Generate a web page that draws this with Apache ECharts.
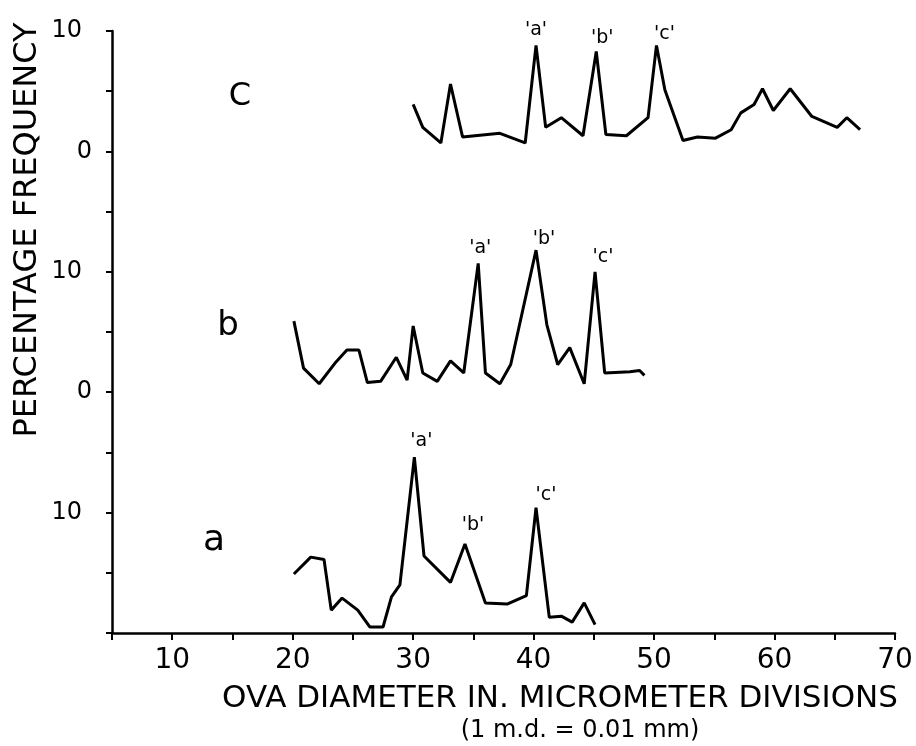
<!DOCTYPE html>
<html><head><meta charset="utf-8">
<script src="https://cdn.jsdelivr.net/npm/echarts@6/dist/echarts.min.js"></script>
<style>html,body{margin:0;padding:0;background:#fff}#c{width:916px;height:746px}</style>
</head><body><div id="c"></div>
<script>
// ---- data (percentage frequency vs ova diameter, micrometer divisions) ----
const xTickLabels = ['10','20','30','40','50','60','70'];
const yTickLabels = {10:'10', 20:'0', 30:'10', 40:'0', 50:'10'};
const stackOffsets = {a:0, b:20, c:40};

const aX = [20.1,21.5,22.6,23.2,24.1,25.4,26.4,27.5,28.2,28.9,30.1,30.9,33.1,34.3,36.0,37.8,39.4,40.2,41.3,42.3,43.2,44.2,45.1];
const aY = [4.9,6.3,6.1,1.9,2.9,1.9,0.5,0.5,3.0,4.0,14.6,6.4,4.2,7.4,2.5,2.4,3.1,10.4,1.3,1.4,0.9,2.5,0.7];

const bX = [20.1,20.9,22.2,23.5,24.5,25.5,26.2,27.3,28.6,29.5,30.0,30.8,32.0,33.1,34.2,35.4,36.0,37.2,38.1,40.2,41.1,42.0,43.0,44.2,45.1,45.9,48.0,48.8,49.2];
const bY = [5.9,2.0,0.7,2.4,3.5,3.5,0.8,0.9,2.9,1.0,5.5,1.6,0.9,2.6,1.6,10.7,1.6,0.7,2.3,11.8,5.6,2.3,3.7,0.7,10.0,1.6,1.7,1.8,1.4];

const cX = [30.0,30.8,32.3,33.1,34.1,37.2,39.3,40.2,41.0,42.3,44.1,45.2,46.0,47.7,49.5,50.2,50.9,52.4,53.6,55.1,56.4,57.2,58.3,59.0,59.9,61.3,63.1,65.2,66.0,67.1];
const cY = [3.9,2.0,0.7,5.6,1.2,1.5,0.7,8.8,2.0,2.8,1.3,8.3,1.4,1.3,2.8,8.8,5.1,0.9,1.2,1.1,1.8,3.2,3.9,5.2,3.4,5.2,2.9,2.0,2.8,1.8];

// peak annotations: index into the series
const peaksA = [{t:"'a'", i:10, off:[7,-16]}, {t:"'b'", i:13, off:[8,-19]}, {t:"'c'", i:17, off:[10,-13]}];
const peaksB = [{t:"'a'", i:15, off:[2,-15]}, {t:"'b'", i:19, off:[8,-11]}, {t:"'c'", i:24, off:[8,-15]}];
const peaksC = [{t:"'a'", i:7, off:[0,-15]}, {t:"'b'", i:11, off:[6,-13]}, {t:"'c'", i:15, off:[8,-11]}];

const FONT = 'DejaVu Sans';
const INK = '#000';

function build(xs, ys, off) { return xs.map((x, k) => [x, ys[k] + off]); }
function mk(data, peaks) {
  return {
    symbol: 'circle', symbolSize: 0, silent: true,
    data: peaks.map(p => ({
      coord: data[p.i],
      label: {show: true, position: 'inside', offset: p.off, formatter: p.t,
              fontSize: 19, color: INK, fontFamily: FONT}
    }))
  };
}
function line(name, data, peaks) {
  return {
    name, type: 'line', data, symbol: 'none', animation: false,
    lineStyle: {color: INK, width: 3}, itemStyle: {color: INK},
    markPoint: mk(data, peaks)
  };
}

const dA = build(aX, aY, stackOffsets.a);
const dB = build(bX, bY, stackOffsets.b);
const dC = build(cX, cY, stackOffsets.c);

const chart = echarts.init(document.getElementById('c'), null, {renderer: 'canvas'});
chart.setOption({
  backgroundColor: '#fff',
  animation: false,
  grid: {left: 112, right: 21, top: 31, bottom: 113, containLabel: false},
  xAxis: {
    type: 'value', min: 5, max: 70, interval: 5,
    axisLine: {show: true, lineStyle: {color: INK, width: 2.5}},
    axisTick: {show: true, length: 7, lineStyle: {color: INK, width: 2}},
    splitLine: {show: false},
    axisLabel: {
      formatter: v => (xTickLabels.indexOf(String(v)) >= 0 ? String(v) : ''),
      fontSize: 28, color: INK, fontFamily: FONT, margin: 14
    }
  },
  yAxis: {
    type: 'value', min: 0, max: 50, interval: 5,
    axisLine: {show: true, lineStyle: {color: INK, width: 2.5}},
    axisTick: {show: true, length: 6, lineStyle: {color: INK, width: 2}},
    splitLine: {show: false},
    axisLabel: {
      formatter: v => {
        const s = yTickLabels[v];
        if (s === undefined) return '';
        return s === '0' ? '{z|0}' : '{t|10}';
      },
      margin: 20,
      rich: {
        z: {fontSize: 24, color: INK, fontFamily: FONT},
        t: {fontSize: 24, color: INK, fontFamily: FONT, padding: [0, 10, 0, 0]}
      }
    }
  },
  series: [line('a', dA, peaksA), line('b', dB, peaksB), line('c', dC, peaksC)],
  graphic: [
    {type: 'text', x: 240, y: 97, style: {text: 'C', fill: INK, font: '32px "DejaVu Sans"', textAlign: 'center', textVerticalAlign: 'middle'}},
    {type: 'text', x: 228, y: 326, style: {text: 'b', fill: INK, font: '34px "DejaVu Sans"', textAlign: 'center', textVerticalAlign: 'middle'}},
    {type: 'text', x: 214, y: 541, style: {text: 'a', fill: INK, font: '36px "DejaVu Sans"', textAlign: 'center', textVerticalAlign: 'middle'}},
    {type: 'text', x: 28, y: 230, rotation: Math.PI / 2,
     style: {text: 'PERCENTAGE FREQUENCY', fill: INK, font: '32px "DejaVu Sans"', textAlign: 'center', textVerticalAlign: 'middle'}},
    {type: 'text', x: 560, y: 699,
     style: {text: 'OVA DIAMETER IN. MICROMETER DIVISIONS', fill: INK, font: '31px "DejaVu Sans"', textAlign: 'center', textVerticalAlign: 'middle'}},
    {type: 'text', x: 580, y: 731,
     style: {text: '(1 m.d. = 0.01 mm)', fill: INK, font: '24px "DejaVu Sans"', textAlign: 'center', textVerticalAlign: 'middle'}}
  ]
});
</script></body></html>
